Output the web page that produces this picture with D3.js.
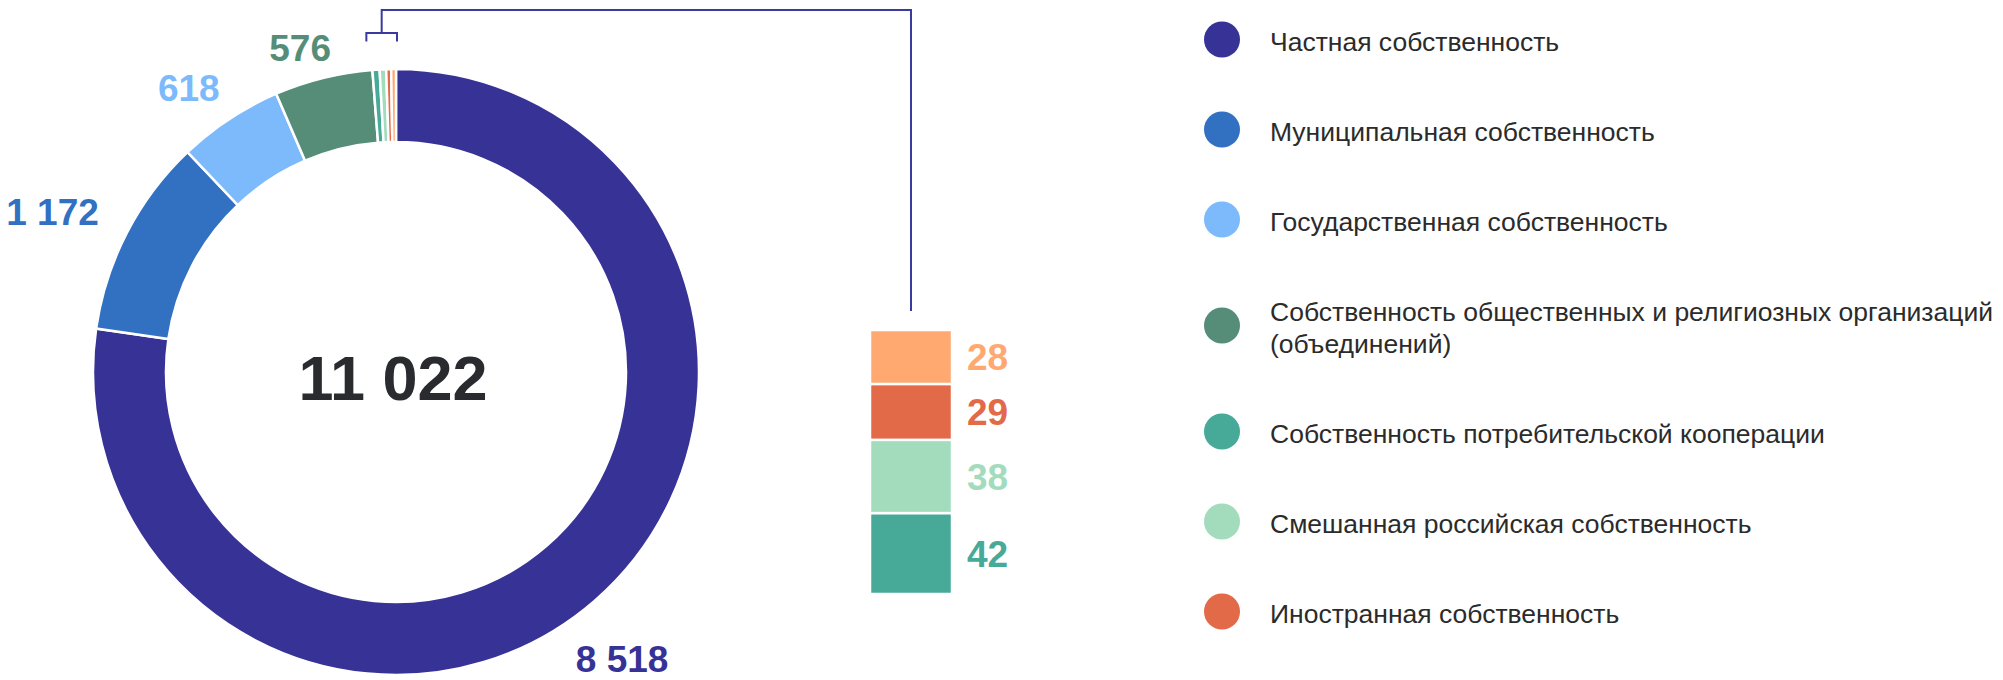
<!DOCTYPE html>
<html>
<head>
<meta charset="utf-8">
<script src="https://cdn.jsdelivr.net/npm/d3@7"></script>
<style>
  body { margin: 0; background: #fff; }
  svg { display: block; font-family: "Liberation Sans", Arial, sans-serif; }
</style>
</head>
<body>
<svg id="chart"></svg>
<script>
// данные (читались с картинки)
const categories = [
  "Частная собственность",
  "Муниципальная собственность",
  "Государственная собственность",
  "Собственность общественных и религиозных организаций|(объединений)",
  "Собственность потребительской кооперации",
  "Смешанная российская собственность",
  "Иностранная собственность"
]
const values = [8518, 1172, 618, 576, 42, 38, 29, 28]
const colors = ["#373296", "#3270c2", "#7dbafb", "#568d78", "#47aa98", "#a3dcbd", "#e36a48", "#ffa870"]
const totalLabel = 11022

const width = 2003
const height = 680
const cx = 396, cy = 372
const outerR = 303, innerR = 230

const fmt = v => d3.format(",")(v).replace(/,/g, " ")

const data = values.map((v, i) => ({value: v, color: colors[i], name: categories[i] || ""}))
const sum = d3.sum(values)

const svg = d3.select("#chart")
  .attr("width", width)
  .attr("height", height)
  .attr("viewBox", [0, 0, width, height])

// кольцо
const pie = d3.pie().sort(null).value(d => d.value)
const arcs = pie(data)
const arc = d3.arc().innerRadius(innerR).outerRadius(outerR)

const g = svg.append("g").attr("transform", `translate(${cx},${cy})`)

g.selectAll("path")
  .data(arcs)
  .join("path")
  .attr("d", arc)
  .attr("fill", d => d.data.color)
  .attr("stroke", "#fff")
  .attr("stroke-width", 2.5)

// подписи крупных секторов
const big = arcs.filter(d => d.data.value / sum > 0.02)
const labelR = 325
const labelSize = 37
const labelShift = [-13, 11]
big.forEach(d => {
  const t = g.append("text")
    .attr("font-size", labelSize)
    .attr("font-weight", "bold")
    .attr("fill", d.data.color)
    .attr("text-anchor", "middle")
    .text(fmt(d.data.value))
  const w = t.node().getComputedTextLength()
  const h = labelSize * 0.716
  const a = (d.startAngle + d.endAngle) / 2
  const s = Math.sin(a), c = Math.cos(a)
  const r = labelR + Math.abs(s) * w / 2 + Math.abs(c) * h / 2
  t.attr("x", r * s + labelShift[0]).attr("y", -r * c + h / 2 + labelShift[1])
})

// итог в центре
g.append("text")
  .attr("text-anchor", "middle")
  .attr("y", 28)
  .attr("x", -3)
  .attr("font-size", 63)
  .attr("font-weight", "bold")
  .attr("fill", "#2a2b2e")
  .text(fmt(totalLabel))

// мелкие секторы — отдельным столбиком
const small = arcs.filter(d => d.data.value / sum <= 0.02)
const smallSum = d3.sum(small, d => d.data.value)
const barX = 870, barW = 82
const y = d3.scaleLinear().domain([0, smallSum]).range([594, 330])

let acc = 0
const stack = small.map(d => {
  const o = {y0: acc, y1: acc + d.data.value, d: d.data}
  acc += d.data.value
  return o
})

svg.append("g")
  .selectAll("rect")
  .data(stack)
  .join("rect")
  .attr("x", barX)
  .attr("width", barW)
  .attr("y", s => y(s.y1))
  .attr("height", s => y(s.y0) - y(s.y1))
  .attr("fill", s => s.d.color)
  .attr("stroke", "#fff")
  .attr("stroke-width", 2.5)

svg.append("g")
  .selectAll("text")
  .data(stack)
  .join("text")
  .attr("x", barX + barW + 15)
  .attr("y", s => (y(s.y0) + y(s.y1)) / 2 + labelSize * 0.716 / 2)
  .attr("font-size", labelSize)
  .attr("font-weight", "bold")
  .attr("fill", s => s.d.color)
  .text(s => fmt(s.d.value))

// скобка и выноска
const a0 = d3.min(small, d => d.startAngle)
const a1 = d3.max(small, d => d.endAngle)
const bx0 = cx + outerR * Math.sin(a0) - 6
const bx1 = cx + outerR * Math.sin(a1) + 1
const by = cy - outerR - 36
const bmid = (bx0 + bx1) / 2
const lineColor = "#3b3a9e"

svg.append("path")
  .attr("d", `M${bx0},${by + 8.5}V${by}H${bx1}V${by + 8.5}`)
  .attr("fill", "none")
  .attr("stroke", lineColor)
  .attr("stroke-width", 2)

svg.append("path")
  .attr("d", `M${bmid},${by}V10H${barX + barW / 2}V${y(smallSum) - 19}`)
  .attr("fill", "none")
  .attr("stroke", lineColor)
  .attr("stroke-width", 2)

// легенда
const legendX = 1222, legendTop = 39.5
const step = 90, lineH = 32
const legend = svg.append("g")
let ly = legendTop
categories.forEach((name, i) => {
  const lines = name.split("|")
  const extra = (lines.length - 1) * lineH
  ly += extra / 2
  legend.append("circle")
    .attr("cx", legendX)
    .attr("cy", ly)
    .attr("r", 18)
    .attr("fill", colors[i])
  const t = legend.append("text")
    .attr("x", legendX + 48)
    .attr("y", ly + 11 - extra / 2)
    .attr("font-size", 26.5)
    .attr("fill", "#2b2b2b")
  lines.forEach((ln, k) => {
    t.append("tspan")
      .attr("x", legendX + 48)
      .attr("dy", k === 0 ? 0 : lineH)
      .text(ln)
  })
  ly += step + extra / 2
})
</script>
</body>
</html>
